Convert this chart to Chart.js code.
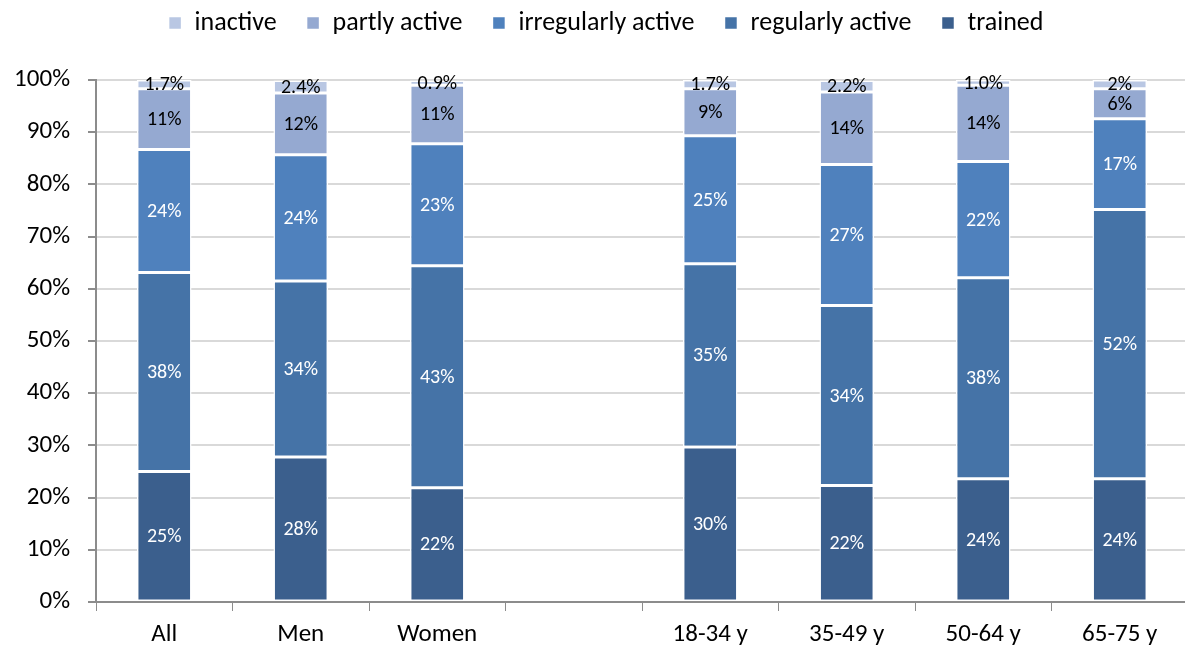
<!DOCTYPE html>
<html>
<head>
<meta charset="utf-8">
<script src="https://cdn.jsdelivr.net/npm/chart.js@4.4.0/dist/chart.umd.min.js"></script>
<style>
  html, body { margin: 0; padding: 0; background: #fff; overflow: hidden; }
  #wrap { width: 1188px; height: 651px; position: relative; }
</style>
</head>
<body>
<div id="wrap"><canvas id="chart"></canvas></div>
<script>
const categories = ["All", "Men", "Women", "", "18-34 y", "35-49 y", "50-64 y", "65-75 y"];

const trained     = [25.0, 27.8, 21.9, null, 29.7, 22.3, 23.6, 23.6];
const regular     = [38.1, 33.7, 42.5, null, 35.1, 34.5, 38.5, 51.6];
const irregular   = [23.6, 24.2, 23.4, null, 24.5, 27.0, 22.3, 17.4];
const partly      = [11.6, 11.8, 11.2, null, 9.0, 13.9, 14.6, 5.7];
const inactive    = [1.7, 2.4, 0.9, null, 1.7, 2.2, 1.0, 1.7];

const trainedText   = ["25%", "28%", "22%", "", "30%", "22%", "24%", "24%"];
const regularText   = ["38%", "34%", "43%", "", "35%", "34%", "38%", "52%"];
const irregularText = ["24%", "24%", "23%", "", "25%", "27%", "22%", "17%"];
const partlyText    = ["11%", "12%", "11%", "", "9%", "14%", "14%", "6%"];
const inactiveText  = ["1.7%", "2.4%", "0.9%", "", "1.7%", "2.2%", "1.0%", "2%"];

const yTicks = [0, 10, 20, 30, 40, 50, 60, 70, 80, 90, 100];

const FONT = "Carlito, Calibri, Lato, 'Open Sans', sans-serif";

function series(label, data, texts, color, textColor) {
  return {
    label, data, texts, textColor,
    backgroundColor: color,
    borderColor: "#ffffff",
    borderWidth: 1.5,
    borderSkipped: false,
    barPercentage: 0.4,
    categoryPercentage: 1.0
  };
}

// value labels in the middle of every segment
const segmentLabels = {
  id: "segmentLabels",
  afterDatasetsDraw(chart) {
    const ctx = chart.ctx;
    ctx.save();
    ctx.font = "20px " + FONT;
    ctx.textAlign = "center";
    ctx.textBaseline = "middle";
    chart.data.datasets.forEach((ds, i) => {
      const meta = chart.getDatasetMeta(i);
      meta.data.forEach((bar, j) => {
        const t = ds.texts[j];
        if (!t || ds.data[j] == null) return;
        ctx.fillStyle = ds.textColor;
        ctx.fillText(t, bar.x, (bar.y + bar.base) / 2 + 1);
      });
    });
    ctx.restore();
  }
};

// legend: a bit more room underneath, and nudged right over the plot
const legendTweak = {
  id: "legendTweak",
  beforeInit(chart) {
    const lg = chart.legend;
    const fit = lg.fit;
    lg.fit = function () {
      fit.call(this);
      this.height += 34;
    };
    const draw = lg.draw;
    lg.draw = function () {
      const ctx = this.ctx;
      ctx.save();
      ctx.translate(12, 0);
      draw.call(this);
      ctx.restore();
    };
  }
};

new Chart(document.getElementById("chart"), {
  type: "bar",
  data: {
    labels: categories,
    datasets: [
      series("trained", trained, trainedText, "#3b5f8d", "#ffffff"),
      series("regularly active", regular, regularText, "#4573a7", "#ffffff"),
      series("irregularly active", irregular, irregularText, "#4f81bd", "#ffffff"),
      series("partly active", partly, partlyText, "#95a9d1", "#000000"),
      series("inactive", inactive, inactiveText, "#b9c7e3", "#000000")
    ]
  },
  options: {
    responsive: true,
    maintainAspectRatio: false,
    animation: false,
    layout: { padding: { top: -20, right: 0, left: 0, bottom: 0 } },
    plugins: {
      tooltip: { enabled: false },
      legend: {
        position: "top",
        reverse: true,
        labels: {
          color: "#000",
          font: { family: FONT, size: 26 },
          boxWidth: 13,
          boxHeight: 13,
          padding: 30
        }
      }
    },
    scales: {
      x: {
        stacked: true,
        grid: {
          offset: true,
          drawOnChartArea: false,
          drawTicks: true,
          tickLength: 9,
          color: "#8c8c8c"
        },
        border: { color: "#8c8c8c", width: 2 },
        ticks: { color: "#000", font: { family: FONT, size: 25 }, padding: 9 },
        afterFit: s => { s.height = 49; }
      },
      y: {
        stacked: true,
        min: 0,
        max: 100,
        afterBuildTicks: s => { s.ticks = yTicks.map(v => ({ value: v })); },
        grid: { color: "#d9d9d9", lineWidth: 2, tickLength: 8, tickColor: "#8c8c8c" },
        border: { color: "#8c8c8c", width: 2 },
        ticks: {
          color: "#000",
          font: { family: FONT, size: 25 },
          padding: 18,
          callback: v => v + "%"
        },
        afterFit: s => { s.width = 96; }
      }
    }
  },
  plugins: [segmentLabels, legendTweak]
});
</script>
</body>
</html>
